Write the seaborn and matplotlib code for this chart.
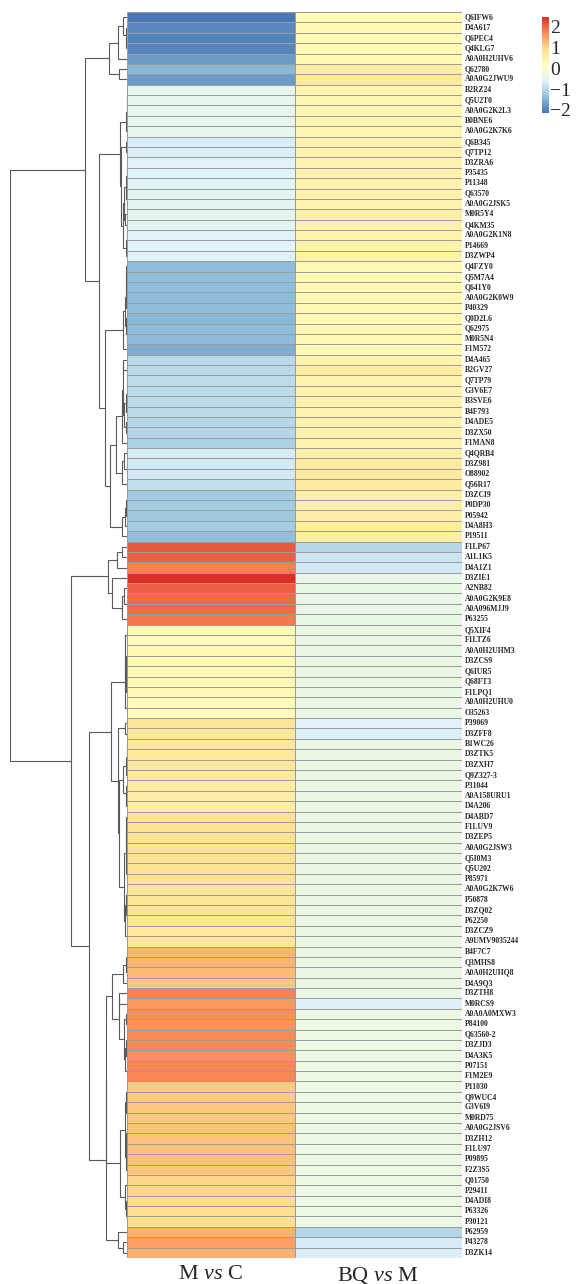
import numpy as np
import pandas as pd
import seaborn as sns
import matplotlib
matplotlib.use("Agg")
import matplotlib.pyplot as plt
from matplotlib.colors import LinearSegmentedColormap

# ---- data -------------------------------------------------------------
proteins = [
    "Q6IFW6", "D4A617", "Q6PEC4", "Q4KLG7", "A0A0H2UHV6", "Q62780", "A0A0G2JWU9",
    "B2RZ24", "Q5U2T0", "A0A0G2K2L3", "B0BNE6", "A0A0G2K7K6", "Q6B345", "Q7TP12",
    "D3ZRA6", "P35435", "P11348", "Q63570", "A0A0G2JSK5", "M0R5Y4", "Q4KM35",
    "A0A0G2K1N8", "P14669", "D3ZWP4", "Q4FZY0", "Q5M7A4", "Q641Y0", "A0A0G2K0W9",
    "P40329", "Q0D2L6", "Q62975", "M0R5N4", "F1M572", "D4A465", "B2GV27", "Q7TP79",
    "G3V6E7", "B3SVE6", "B4F793", "D4ADE5", "D3ZX50", "F1MAN8", "Q4QRB4", "D3Z981",
    "O88902", "Q56R17", "D3ZCI9", "P0DP30", "P05942", "D4A8H3", "P19511", "F1LP67",
    "A1L1K5", "D4A1Z1", "D3ZIE1", "A2NB82", "A0A0G2K9E8", "A0A096MJJ9", "P63255",
    "Q5XIF4", "F1LTZ6", "A0A0H2UHM3", "D3ZCS9", "Q6IUR5", "Q68FT3", "F1LPQ1",
    "A0A0H2UHU0", "O35263", "P39069", "D3ZFF8", "B1WC26", "D3ZTK5", "D3ZXH7",
    "Q9Z327-3", "P31044", "A0A158URU1", "D4A206", "D4ABD7", "F1LUV9", "D3ZEP5",
    "A0A0G2JSW3", "Q5I0M3", "Q5U202", "P85971", "A0A0G2K7W6", "P50878", "D3ZQ02",
    "P62250", "D3ZCZ9", "A9UMV9035244", "B4F7C7", "Q3MHS8", "A0A0H2UHQ8", "D4A9Q3",
    "D3ZTH8", "M0RCS9", "A0A0A0MXW3", "P84100", "Q63560-2", "D3ZJD3", "D4A3K5",
    "P07151", "F1M2E9", "P11030", "Q9WUC4", "G3V6I9", "M0RD75", "A0A0G2JSV6",
    "D3ZH12", "F1LU97", "P09895", "F2Z3S5", "Q01750", "P29411", "D4ADI8", "P63326",
    "P30121", "P62959", "P43278", "D3ZK14",
]

m_vs_c = [
    -2.10, -1.95, -2.00, -1.98, -1.75, -1.45, -1.75,
    -0.44, -0.44, -0.44, -0.44, -0.48,
    -0.70, -0.68,
    -0.58, -0.58, -0.58, -0.55, -0.55, -0.50, -0.55, -0.62, -0.62, -0.64,
    -1.40, -1.38, -1.38, -1.42, -1.38, -1.45, -1.42, -1.42, -1.55,
    -1.00, -1.00, -0.95, -0.95, -0.95, -0.97, -1.02, -1.05, -1.12,
    -0.72, -0.75, -0.75, -0.90,
    -1.20, -1.20, -1.25, -1.20, -1.38,
    2.10, 2.05, 1.80, 2.45, 2.05, 1.95, 1.95, 1.85,
    0.25, 0.25, 0.30, 0.30, 0.32, 0.32, 0.30, 0.25, 0.25,
    0.80, 0.72, 0.72, 0.72, 0.72, 0.68, 0.62, 0.58, 0.60,
    0.85, 0.88, 0.88, 0.88, 0.88, 0.85, 0.85,
    0.82, 0.82, 0.80, 0.80, 0.75, 0.75,
    1.30, 1.30, 1.25, 1.15,
    1.75, 1.60, 1.65, 1.60, 1.70, 1.70, 1.65, 1.72, 1.72,
    1.12, 1.12, 1.15, 1.15, 1.18, 1.18, 1.20, 1.20, 1.15,
    1.00, 1.00, 0.95, 0.92, 0.92,
    1.35, 1.50, 1.35,
]

bq_vs_m = [
    0.30, 0.30, 0.30, 0.30, 0.30, 0.62, 0.66,
    0.40, 0.40, 0.40, 0.40, 0.40,
    0.45, 0.45,
    0.45, 0.45, 0.45, 0.45, 0.45, 0.55, 0.50, 0.48, 0.48, 0.48,
    0.35, 0.35, 0.35, 0.35, 0.35, 0.35, 0.35, 0.35, 0.35,
    0.45, 0.60, 0.45, 0.45, 0.45, 0.45, 0.45, 0.45, 0.45,
    0.55, 0.65, 0.65, 0.65,
    0.55, 0.55, 0.55, 0.62, 0.55,
    -1.03, -0.82, -0.78, -0.38, -0.38, -0.38, -0.38, -0.38,
    -0.37, -0.37, -0.37, -0.37, -0.37, -0.37, -0.37, -0.37, -0.37,
    -0.62, -0.65, -0.35, -0.35, -0.35, -0.35, -0.35, -0.35, -0.35,
    -0.35, -0.35, -0.35, -0.35, -0.35, -0.35, -0.35,
    -0.35, -0.35, -0.35, -0.35, -0.35, -0.35,
    -0.35, -0.35, -0.35, -0.35,
    -0.35, -0.63, -0.33, -0.33, -0.33, -0.33, -0.33, -0.33, -0.33,
    -0.33, -0.33, -0.33, -0.33, -0.33, -0.33, -0.33, -0.33, -0.33,
    -0.33, -0.33, -0.33, -0.33, -0.33,
    -1.05, -0.72, -0.68,
]

comparisons = ["M $\\mathit{vs}$ C", "BQ $\\mathit{vs}$ M"]
cbar_ticks = [-2, -1, 0, 1, 2]

df = pd.DataFrame({comparisons[0]: m_vs_c, comparisons[1]: bq_vs_m}, index=proteins)

# ---- row clustering (complete linkage, order-preserving) -------------
def ordered_linkage(values):
    X = np.asarray(values, dtype=float)
    D = np.sqrt(((X[:, None, :] - X[None, :, :]) ** 2).sum(-1))
    nodes = [{"m": [i], "pos": i + 0.5, "h": 0.0} for i in range(len(X))]
    links = []
    while len(nodes) > 1:
        dists = [D[np.ix_(nodes[k]["m"], nodes[k + 1]["m"])].max()
                 for k in range(len(nodes) - 1)]
        k = int(np.argmin(dists))
        a, b = nodes[k], nodes[k + 1]
        h = max(dists[k], a["h"], b["h"])
        links.append((a["pos"], a["h"], b["pos"], b["h"], h))
        nodes[k:k + 2] = [{"m": a["m"] + b["m"], "pos": (a["pos"] + b["pos"]) / 2, "h": h}]
    return links, nodes[0]["h"]

links, root_h = ordered_linkage(df.values)

# ---- style ------------------------------------------------------------
sns.set_theme(style="white")
plt.rcParams["font.family"] = ["Liberation Serif", "DejaVu Serif"]
plt.rcParams["mathtext.fontset"] = "custom"
plt.rcParams["mathtext.rm"] = "Liberation Serif"
plt.rcParams["mathtext.it"] = "Liberation Serif:italic"

palette = ["#4575B4", "#91BFDB", "#E0F3F8", "#FFFFBF", "#FEE090", "#FC8D59", "#D73027"]
cmap = LinearSegmentedColormap.from_list("rdylbu7", palette, N=256)

W, H = 576, 1284
fig = plt.figure(figsize=(W / 100, H / 100), dpi=100)
fig.patch.set_facecolor("white")

def box(x0, y0, x1, y1):
    return [x0 / W, 1 - y1 / H, (x1 - x0) / W, (y1 - y0) / H]

ax = fig.add_axes(box(127, 12, 462, 1258))
cax = fig.add_axes(box(542, 17, 549, 113))
dax = fig.add_axes(box(10, 12, 127, 1258))

sns.heatmap(df, ax=ax, cmap=cmap, vmin=-2.15, vmax=2.45,
            linewidths=0.5, linecolor="#9c9c9c",
            yticklabels=True, xticklabels=True,
            cbar_ax=cax, cbar_kws={"ticks": cbar_ticks})

ax.tick_params(axis="y", left=False, right=False, labelleft=False,
               labelright=True, length=0, pad=2)
ax.tick_params(axis="x", length=0, pad=5)
for t in ax.get_yticklabels():
    t.set_rotation(0)
    t.set_fontsize(5.5)
    t.set_fontweight("bold")
    t.set_va("center")
for t in ax.get_xticklabels():
    t.set_rotation(0)
    t.set_fontsize(16)
ax.set_xlabel("")
ax.set_ylabel("")

cbar = ax.collections[0].colorbar
cbar.outline.set_visible(False)
cax.tick_params(length=0, labelsize=14, pad=1)

# ---- dendrogram -------------------------------------------------------
for ya, ha, yb, hb, h in links:
    dax.plot([ha, h, h, hb], [ya, ya, yb, yb], color="#5a5a5a", lw=0.8,
             solid_joinstyle="miter")
dax.set_ylim(len(proteins), 0)
dax.set_xlim(root_h, 0)
dax.axis("off")

fig.savefig("out.png", dpi=100, facecolor="white")
